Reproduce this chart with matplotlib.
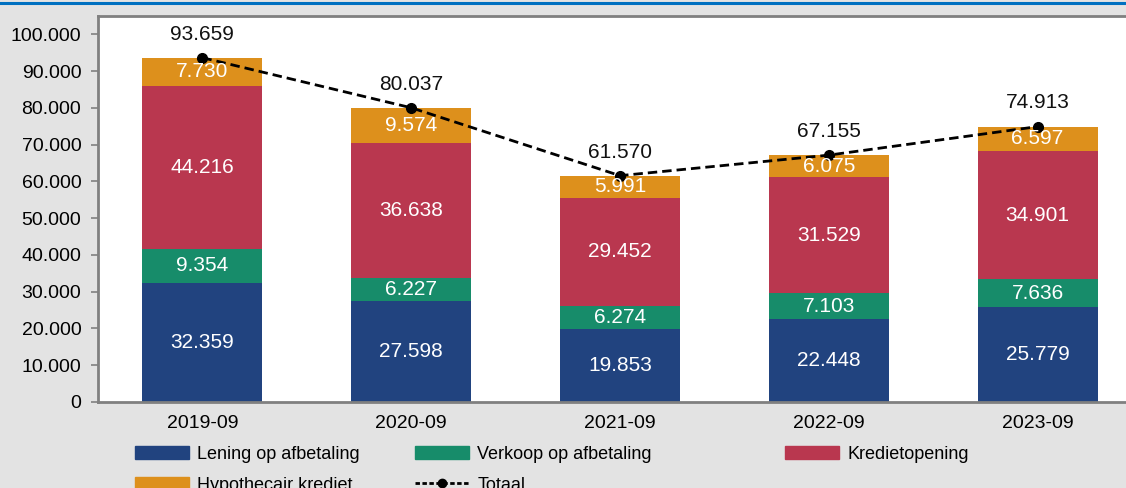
import matplotlib
matplotlib.use("Agg")
import matplotlib.pyplot as plt
import numpy as np
from matplotlib.lines import Line2D
from matplotlib.patches import Patch

plt.rcParams['font.family'] = ['Liberation Sans', 'DejaVu Sans']

categories = ["2019-09", "2020-09", "2021-09", "2022-09", "2023-09"]
lening = [32359, 27598, 19853, 22448, 25779]
verkoop = [9354, 6227, 6274, 7103, 7636]
krediet = [44216, 36638, 29452, 31529, 34901]
hypo = [7730, 9574, 5991, 6075, 6597]
totaal = [93659, 80037, 61570, 67155, 74913]

series = [("Lening op afbetaling", lening, "#21437f"),
          ("Verkoop op afbetaling", verkoop, "#178c6a"),
          ("Kredietopening", krediet, "#b9374f"),
          ("Hypothecair krediet", hypo, "#dd901c")]

W, H = 1126, 488
fig = plt.figure(figsize=(W / 100, H / 100), dpi=100)
fig.patch.set_facecolor("#e3e3e3")

left, right, top, bottom = 98, 1142, 16, 402
ax = fig.add_axes([left / W, (H - bottom) / H, (right - left) / W, (bottom - top) / H])
ax.set_facecolor("white")

x = np.arange(len(categories))
bw = 0.575
base = np.zeros(len(categories))
for name, vals, col in series:
    v = np.array(vals, dtype=float)
    ax.bar(x, v, bw, bottom=base, color=col, label=name, zorder=2)
    for xi, b, val in zip(x, base, v):
        ax.text(xi, b + val / 2, f"{int(val):,}".replace(",", "."), ha="center", va="center",
                color="white", fontsize=15, zorder=4)
    base += v

ax.plot(x, totaal, color="black", lw=2, linestyle=(0, (3.4, 1.8)), marker="o",
        markersize=7, zorder=3, label="Totaal")
for xi, t in zip(x, totaal):
    ax.annotate(f"{t:,}".replace(",", "."), (xi, t), xytext=(0, 17), textcoords="offset points",
                ha="center", va="center", fontsize=15, color="#111111", zorder=5)

ax.set_xlim(-0.5, 4.5)
ax.set_ylim(0, 105000)
yt = np.arange(0, 100001, 10000)
ax.set_yticks(yt)
ax.set_yticklabels([f"{v:,}".replace(",", ".") if v else "0" for v in yt], fontsize=14)
ax.set_xticks(x)
ax.set_xticklabels(categories, fontsize=14)
ax.tick_params(axis="x", length=0, pad=9)
ax.tick_params(axis="y", length=5, width=1.2, color="#808080", pad=7)
for s in ["left", "bottom", "top"]:
    ax.spines[s].set_color("#808080")
    ax.spines[s].set_linewidth(2)
ax.spines["right"].set_visible(False)

# blue rule at top
fig.add_artist(Line2D([0, 1], [1 - 2.5 / H, 1 - 2.5 / H], transform=fig.transFigure,
                      color="#0070c0", lw=2.2))

# legends in three columns
common = dict(frameon=False, fontsize=13, handlelength=3.0, handleheight=0.75,
              handletextpad=0.45, borderpad=0, borderaxespad=0, labelspacing=0.75,
              loc="upper left")
p = [Patch(color=c) for _, _, c in series]
tot_h = Line2D([], [], color="black", lw=2, linestyle=(0, (1.6, 0.9)), marker="o", markersize=6)
ytop = 1 - 446 / H
fig.legend([p[0], p[3]], ["Lening op afbetaling", "Hypothecair krediet"],
           bbox_to_anchor=(135 / W, ytop), **common)
fig.legend([p[1], tot_h], ["Verkoop op afbetaling", "Totaal"],
           bbox_to_anchor=(415 / W, ytop), **common)
fig.legend([p[2]], ["Kredietopening"],
           bbox_to_anchor=(785 / W, ytop), **common)

fig.savefig("out.png", dpi=100, facecolor=fig.get_facecolor())
